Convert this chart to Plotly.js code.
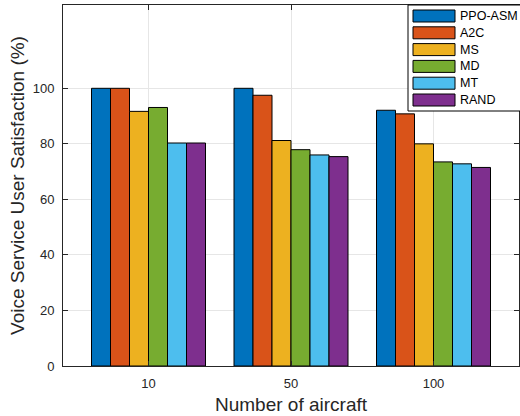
<!DOCTYPE html>
<html>
<head>
<meta charset="utf-8">
<script src="https://cdn.plot.ly/plotly-3.0.1.min.js"></script>
<style>html,body{margin:0;padding:0;background:#fff;}#chart{width:520px;height:416px;}</style>
</head>
<body>
<div id="chart"></div>
<script>
const categories = ["10", "50", "100"];
const seriesNames = ["PPO-ASM", "A2C", "MS", "MD", "MT", "RAND"];
const ppoAsm = [100, 100, 92.1];
const a2c = [100, 97.5, 90.8];
const ms = [91.7, 81.2, 80.0];
const md = [93.1, 77.9, 73.5];
const mt = [80.3, 76.0, 72.8];
const rand = [80.3, 75.4, 71.5];
const seriesValues = [ppoAsm, a2c, ms, md, mt, rand];
const colors = ["#0072BD", "#D95319", "#EDB120", "#77AC30", "#4DBEEE", "#7E2F8E"];
const yTicks = [0, 20, 40, 60, 80, 100];

const W = 520, H = 416;
const L = 63, R = 519, T = 5, B = 366;
const pw = R - L, ph = B - T;
const px = x => (x - L) / pw;
const py = y => (B - y) / ph;

const traces = seriesNames.map((name, i) => ({
  type: 'bar',
  name: name,
  x: categories,
  y: seriesValues[i],
  marker: {color: colors[i], line: {color: '#000000', width: 1}},
  showlegend: false
}));

const shapes = [];
const annotations = [];
shapes.push({type: 'rect', xref: 'paper', yref: 'paper', x0: px(408), x1: px(521), y0: py(111), y1: py(5),
  fillcolor: '#ffffff', line: {color: '#000000', width: 1}, layer: 'above'});
seriesNames.forEach((name, i) => {
  const yc = 16 + i * 16.8;
  shapes.push({type: 'rect', xref: 'paper', yref: 'paper', x0: px(413), x1: px(455), y0: py(yc + 6), y1: py(yc - 6),
    fillcolor: colors[i], line: {color: '#000000', width: 1}, layer: 'above'});
  annotations.push({xref: 'paper', yref: 'paper', x: px(458), y: py(yc), text: name, showarrow: false,
    xanchor: 'left', yanchor: 'middle', font: {family: 'Liberation Sans, Arial, sans-serif', size: 12.5, color: '#000000'}});
});

const layout = {
  width: W, height: H,
  margin: {l: L, r: W - R, t: T, b: H - B, pad: 0},
  paper_bgcolor: '#ffffff', plot_bgcolor: '#ffffff',
  font: {family: 'Liberation Sans, Arial, sans-serif', size: 13, color: '#262626'},
  barmode: 'group', bargap: 0.2, bargroupgap: 0,
  xaxis: {
    type: 'category', range: [-0.6, 2.6],
    showline: true, linecolor: '#262626', linewidth: 1, mirror: 'ticks',
    ticks: 'inside', ticklen: 5, tickcolor: '#262626',
    showgrid: true, gridcolor: '#e6e6e6', gridwidth: 1,
    tickfont: {size: 13, color: '#262626'}, ticklabelstandoff: 5,
    title: {text: 'Number of aircraft', font: {size: 19, color: '#262626'}, standoff: 8},
    zeroline: false, fixedrange: true
  },
  yaxis: {
    range: [0, 130], tickvals: yTicks, ticktext: yTicks.map(String),
    showline: true, linecolor: '#262626', linewidth: 1, mirror: 'ticks',
    ticks: 'inside', ticklen: 5, tickcolor: '#262626',
    showgrid: true, gridcolor: '#e6e6e6', gridwidth: 1,
    tickfont: {size: 13, color: '#262626'}, ticklabelstandoff: 5,
    title: {text: 'Voice Service User Satisfaction (%)', font: {size: 19, color: '#262626'}, standoff: 3},
    zeroline: false, fixedrange: true
  },
  shapes: shapes,
  annotations: annotations
};

Plotly.newPlot('chart', traces, layout, {staticPlot: true, displayModeBar: false});
</script>
</body>
</html>
